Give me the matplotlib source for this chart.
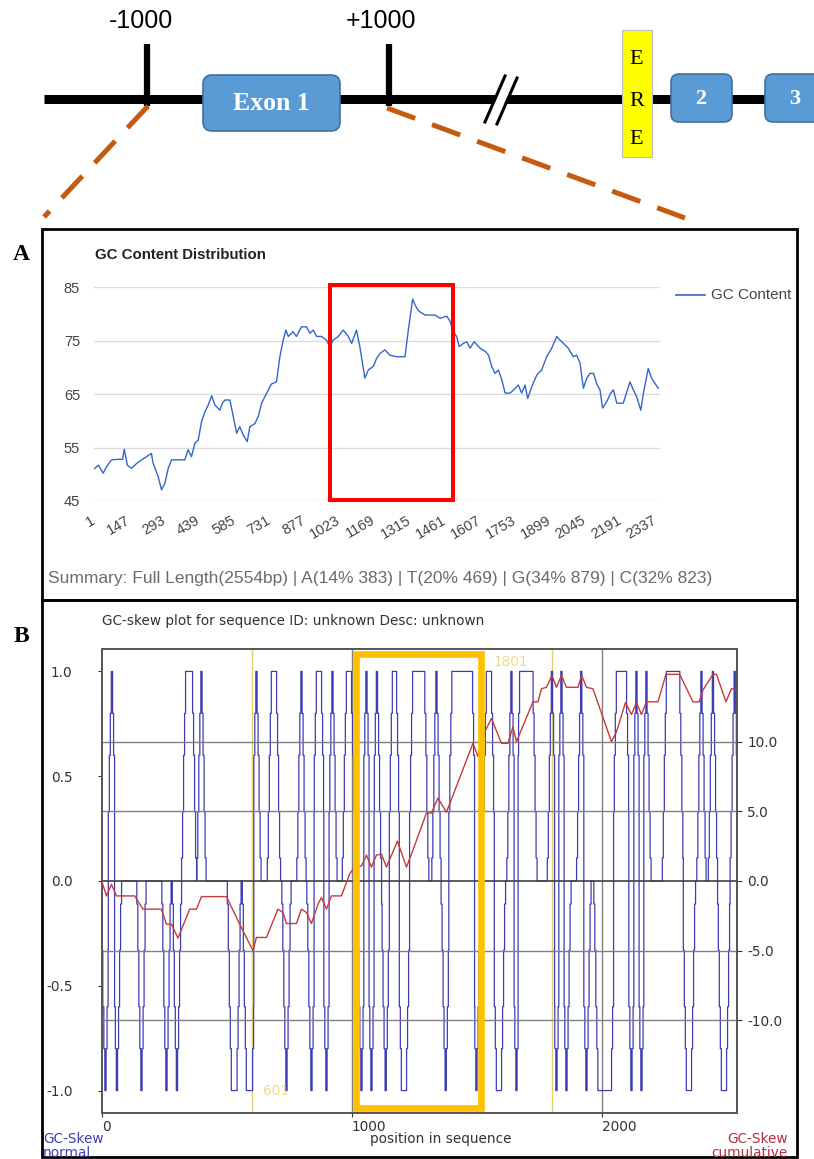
import numpy as np
import matplotlib
matplotlib.use("Agg")
import matplotlib.pyplot as plt
from matplotlib.patches import FancyBboxPatch, Rectangle

plt.rcParams['axes.unicode_minus'] = False

W, H = 814, 1159

# ---------------- panel A : GC content (sliding window) ----------------
gc_pos = [1, 20, 39, 53, 74, 101, 120, 127, 140, 157, 178, 199, 220, 240, 247, 268, 282, 296,
          310, 324, 379, 393, 407, 421, 435, 449, 463, 477, 491, 504, 525, 536, 546, 567, 581,
          595, 608, 622, 639, 650, 671, 685, 699, 720, 740, 761, 775, 789, 800, 810, 830, 844,
          865, 886, 900, 914, 928, 949, 969, 983, 997, 1018, 1039, 1060, 1074, 1094, 1108, 1129,
          1143, 1164, 1178, 1192, 1212, 1233, 1261, 1296, 1310, 1328, 1338, 1352, 1380, 1421,
          1442, 1470, 1484, 1497, 1511, 1522, 1539, 1553, 1567, 1584, 1609, 1630, 1644, 1657,
          1671, 1685, 1699, 1713, 1734, 1755, 1768, 1782, 1796, 1807, 1824, 1845, 1865, 1886,
          1907, 1928, 1942, 1963, 1976, 1997, 2011, 2025, 2039, 2053, 2067, 2081, 2094, 2108,
          2119, 2136, 2153, 2164, 2178, 2205, 2233, 2247, 2261, 2278, 2289, 2309, 2323, 2337, 2351]
gc_val = [51.0, 51.7, 50.2, 51.4, 52.7, 52.8, 52.8, 54.7, 51.7, 51.1, 52.0, 52.7, 53.3, 53.9, 52.1,
          49.6, 47.1, 48.3, 51.1, 52.7, 52.7, 54.6, 53.3, 55.8, 56.4, 59.9, 61.7, 63.0, 64.7, 63.0,
          62.0, 63.3, 63.9, 63.9, 60.8, 57.7, 58.9, 57.4, 56.1, 58.9, 59.5, 60.8, 63.3, 65.2, 66.9,
          67.3, 72.0, 75.1, 77.0, 75.8, 76.7, 75.8, 77.6, 77.6, 76.4, 77.0, 75.8, 75.8, 75.1, 73.9,
          75.1, 75.8, 77.0, 75.8, 74.5, 77.0, 73.9, 68.0, 69.5, 70.2, 71.7, 72.6, 73.3, 72.3, 72.0,
          72.0, 77.0, 82.8, 81.7, 80.6, 79.8, 79.8, 79.2, 79.6, 78.6, 76.7, 75.8, 73.9, 74.5, 74.8,
          73.6, 74.8, 73.6, 73.0, 72.3, 70.2, 68.9, 69.5, 67.7, 65.2, 65.2, 66.1, 66.7, 65.2, 66.7,
          64.2, 66.4, 68.6, 69.5, 72.0, 73.6, 75.8, 75.1, 74.2, 73.6, 72.0, 72.3, 70.8, 66.1, 68.0,
          68.9, 68.9, 67.0, 65.8, 62.4, 63.6, 65.2, 65.8, 63.3, 63.3, 67.3, 65.8, 64.5, 62.0, 65.2,
          69.8, 68.0, 67.0, 66.1]
gc_ticks = [1, 147, 293, 439, 585, 731, 877, 1023, 1169, 1315, 1461, 1607, 1753, 1899, 2045,
            2191, 2337]
gc_yticks = [45, 55, 65, 75, 85]
summary = "Summary: Full Length(2554bp) | A(14% 383) | T(20% 469) | G(34% 879) | C(32% 823)"

# ---------------- panel B : GC skew ----------------
# windows where the normal skew reaches +1 / -1 (start, end of the flat top)
skew_up = [(39, 43), (336, 363), (397, 401), (617, 621), (679, 699), (797, 801), (859, 879),
           (921, 925), (979, 999), (1057, 1061), (1099, 1103), (1163, 1179), (1244, 1292),
           (1337, 1341), (1401, 1483), (1539, 1559), (1637, 1641), (1672, 1725), (1799, 1803),
           (1837, 1841), (1916, 1920), (2059, 2099), (2137, 2141), (2177, 2181), (2259, 2312),
           (2397, 2401), (2443, 2447), (2530, 2534)]
skew_down = [(13, 17), (59, 63), (157, 161), (257, 261), (299, 303), (519, 541), (579, 603),
             (737, 741), (837, 841), (897, 901), (1037, 1041), (1077, 1081), (1134, 1138),
             (1199, 1219), (1374, 1378), (1497, 1501), (1579, 1599), (1657, 1661), (1817, 1821),
             (1857, 1861), (1937, 1941), (1985, 2039), (2117, 2121), (2157, 2161), (2339, 2359),
             (2479, 2499)]
skew_levels = [0.11, 0.33, 0.6, 0.8, 1.0]
seq_len = 2544

cum_pos = [0, 19, 39, 59, 132, 165, 239, 259, 279, 305, 352, 379, 399, 499, 552, 605, 619, 659,
           705, 725, 739, 779, 799, 819, 839, 865, 879, 899, 919, 959, 992, 1012, 1039, 1059, 1079,
           1099, 1119, 1139, 1183, 1219, 1239, 1299, 1319, 1345, 1379, 1485, 1505, 1532, 1559,
           1599, 1625, 1645, 1659, 1725, 1745, 1759, 1779, 1801, 1819, 1839, 1859, 1905, 1920,
           1939, 1965, 2039, 2059, 2095, 2119, 2139, 2159, 2179, 2225, 2257, 2312, 2365, 2390,
           2405, 2445, 2459, 2497, 2519, 2540]
cum_val = [0, -1.07, -0.24, -1.07, -1.07, -2.02, -2.02, -3.1, -3.1, -4.1, -2.02, -2.02, -1.12,
           -1.12, -3.1, -5.0, -4.05, -4.05, -2.02, -2.26, -3.05, -3.05, -2.02, -2.26, -3.05, -1.67,
           -1.19, -2.02, -1.07, -1.07, 0.52, 1.0, 1.07, 1.86, 1.0, 1.86, 1.93, 1.0, 2.86, 1.0, 1.93,
           4.88, 4.88, 5.95, 4.93, 9.88, 8.93, 10.7, 11.67, 9.88, 9.88, 11.07, 10.0, 12.86, 12.86,
           13.8, 13.9, 14.76, 13.9, 14.76, 13.9, 13.9, 14.76, 13.9, 13.8, 10.0, 10.7, 12.8, 11.95,
           12.8, 11.95, 12.86, 12.86, 14.83, 14.83, 12.86, 12.86, 13.7, 14.83, 14.83, 12.86, 13.8,
           13.7]
marks = [601, 1801]

# build the stepped normal-skew trace from the windows
skew = np.zeros(seq_len + 1)
for spikes, sign in [(skew_up, 1), (skew_down, -1)]:
    for a, b in spikes:
        for k, lev in enumerate(reversed(skew_levels)):
            lo = max(a - 4 * k, 0)
            hi = min(b + 4 * k, seq_len)
            seg = skew[lo:hi + 1]
            seg[np.abs(seg) < lev] = sign * lev


def rect(x0, y0, x1, y1):
    return [x0 / W, 1 - y1 / H, (x1 - x0) / W, (y1 - y0) / H]


fig = plt.figure(figsize=(W / 100, H / 100), dpi=100)

# overlay in pixel coordinates for the gene diagram, frames and loose labels
ov = fig.add_axes([0, 0, 1, 1])
ov.set_xlim(0, W)
ov.set_ylim(H, 0)
ov.axis('off')

orange = '#C55A11'
ov.plot([44, 814], [99, 99], color='black', lw=6.5, solid_capstyle='butt')
for xt in [147, 389]:
    ov.plot([xt, xt], [44, 106], color='black', lw=4.5, solid_capstyle='butt')
ov.text(141, 21, '-1000', fontsize=18, family='Liberation Sans', ha='center', va='center')
ov.text(381, 21, '+1000', fontsize=18, family='Liberation Sans', ha='center', va='center')

ov.add_patch(FancyBboxPatch((203, 75), 137, 56, boxstyle='round,pad=0,rounding_size=9',
                            fc='#5B9BD5', ec='#41719C', lw=1.2, zorder=3))
ov.text(271, 104, 'Exon 1', color='white', fontsize=18.5, fontweight='bold',
        family='Liberation Serif', ha='center', va='center', zorder=4)

# break mark
ov.plot([491, 511], [123, 77], color='white', lw=7, zorder=3)
ov.plot([485, 505], [122, 76], color='black', lw=2.2, zorder=4)
ov.plot([497, 517], [124, 78], color='black', lw=2.2, zorder=4)

ov.add_patch(Rectangle((621.5, 30), 30, 127, fc='#FFFF00', ec='#BBBBBB', lw=0.8, zorder=3))
for ch, yy in zip('ERE', [60, 101, 140]):
    ov.text(636.5, yy, ch, fontsize=16, family='Liberation Serif', ha='center', va='center',
            zorder=4)
for x0, lab in [(671, '2'), (765, '3')]:
    ov.add_patch(FancyBboxPatch((x0, 74), 61, 48, boxstyle='round,pad=0,rounding_size=8',
                                fc='#5B9BD5', ec='#41719C', lw=1.2, zorder=3))
    ov.text(x0 + 30, 99, lab, color='white', fontsize=16, fontweight='bold',
            family='Liberation Serif', ha='center', va='center', zorder=4)

ov.plot([148, 44], [106, 217], color=orange, lw=3.6, dashes=(6, 3.6), solid_capstyle='butt')
ov.plot([387, 685], [108, 218], color=orange, lw=3.6, dashes=(6, 3.6), solid_capstyle='butt')

# panel frames and letters
ov.add_patch(Rectangle((42, 229), 755, 371, fill=False, ec='black', lw=2))
ov.add_patch(Rectangle((42, 600), 755, 557, fill=False, ec='black', lw=2))
ov.text(21, 254, 'A', fontsize=17, fontweight='bold', family='Liberation Serif',
        ha='center', va='center')
ov.text(21, 636, 'B', fontsize=17, fontweight='bold', family='Liberation Serif',
        ha='center', va='center')

# panel A loose text
ov.text(95, 255, 'GC Content Distribution', fontsize=10.8, fontweight='bold',
        family='Liberation Sans', color='#222222', va='center')
ov.plot([676, 705], [295, 295], color='#3366CC', lw=1.2)
ov.text(711, 295, 'GC Content', fontsize=11, family='Liberation Sans', color='#444444',
        va='center')
ov.text(48, 579, summary, fontsize=12.5, family='Liberation Sans', color='#6b6b6b',
        va='center')

# panel B loose text
ov.text(102, 621, 'GC-skew plot for sequence ID: unknown Desc: unknown', fontsize=9.8,
        color='#333333', va='center')
ov.text(441, 1139, 'position in sequence', fontsize=9.8, color='#333333',
        ha='center', va='center')
ov.text(43, 1146, 'GC-Skew\nnormal', fontsize=9.8, color='#4040b0', va='center',
        linespacing=0.95)
ov.text(788, 1146, 'GC-Skew\ncumulative', fontsize=9.8, color='#b03040', va='center',
        ha='right', linespacing=0.95)

# ---------------- panel A axes ----------------
axa = fig.add_axes(rect(94, 287.3, 660, 501))
axa.set_xlim(1, 2358)
axa.set_ylim(45, 85)
axa.plot(gc_pos, gc_val, color='#3366CC', lw=1.0)
axa.set_yticks(gc_yticks)
axa.set_yticklabels([str(v) for v in gc_yticks], fontsize=10.5, family='Liberation Sans',
                    color='#444444')
axa.set_xticks(gc_ticks)
axa.set_xticklabels([str(v) for v in gc_ticks], fontsize=10.5, family='Liberation Sans',
                    color='#444444', rotation=30, ha='right', va='center',
                    rotation_mode='anchor')
axa.tick_params(axis='y', length=0, pad=10)
axa.tick_params(axis='x', length=0, pad=13)
axa.grid(axis='y', color='#dcdcdc', lw=1)
axa.set_axisbelow(True)
for s in axa.spines.values():
    s.set_visible(False)
axa.patch.set_alpha(0)
axa.add_patch(Rectangle((982, 45.2), 1497 - 982, 85.37 - 45.2, fill=False, ec='#FF0000',
                        lw=2.9, clip_on=False, zorder=5))

# ---------------- panel B axes ----------------
axb = fig.add_axes(rect(101.7, 649, 736.7, 1113))
axb.set_xlim(0, 2540)
axb.set_ylim(-1.107, 1.107)
axr = axb.twinx()
axr.set_ylim(-16.65, 16.65)

for m in marks:
    axb.axvline(m, color='#E6CF6E', lw=1, zorder=1)
axb.text(645, -1.0, '601', color='#EEDC8A', fontsize=9.8, va='center')
axb.text(1704, 1.047, '1801', color='#EEDC8A', fontsize=9.8, va='center', ha='right')
for xv in [1000, 2000]:
    axb.axvline(xv, color='#808080', lw=1, zorder=1)

axb.plot(np.arange(seq_len + 1), skew, drawstyle='steps-mid', color='#3c3cb4', lw=0.9,
         zorder=2)

for yv in [-10, -5, 5, 10]:
    axr.axhline(yv, color='#808080', lw=1, zorder=1)
axr.axhline(0, color='#404040', lw=1.2, zorder=3)
axr.plot(cum_pos, cum_val, color='#c83a3a', lw=1.0, zorder=4)
axr.add_patch(Rectangle((1019, -1.082), 500, 2.164, transform=axb.transData, fill=False,
                        ec='#FFC000', lw=4.8, clip_on=False, zorder=6))

axb.set_yticks([-1, -0.5, 0, 0.5, 1])
axb.set_yticklabels(['-1.0', '-0.5', '0.0', '0.5', '1.0'], fontsize=9.8, color='#333333')
axr.set_yticks([-10, -5, 0, 5, 10])
axr.set_yticklabels(['-10.0', '-5.0', '0.0', '5.0', '10.0'], fontsize=9.8, color='#333333')
axb.set_xticks([0, 1000, 2000])
axb.set_xticklabels(['0', '1000', '2000'], fontsize=9.8, color='#333333', ha='left')
axb.tick_params(axis='y', length=3, pad=18, color='#333333')
axr.tick_params(axis='y', length=3.5, pad=4, color='#333333')
axb.tick_params(axis='x', length=3, pad=2, color='#333333')
for a in (axb, axr):
    for s in a.spines.values():
        s.set_color('#555555')
        s.set_linewidth(1.2)

fig.savefig('out.png', dpi=100)
